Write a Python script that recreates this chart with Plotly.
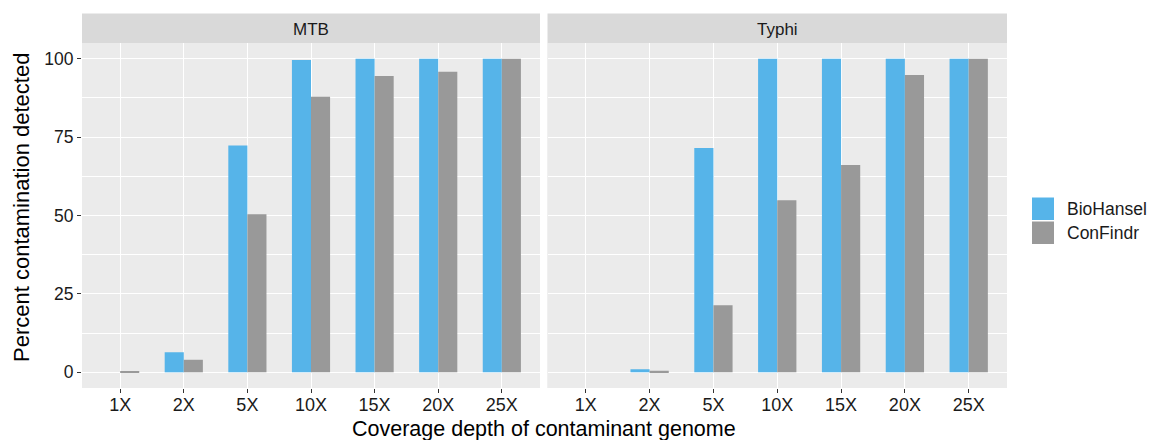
import plotly.graph_objects as go

categories = ["1X", "2X", "5X", "10X", "15X", "20X", "25X"]
mtb_biohansel = [0, 6.4, 72.3, 99.6, 100, 100, 100]
mtb_confindr = [0.3, 4.0, 50.4, 87.9, 94.5, 95.8, 100]
typhi_biohansel = [0, 1.0, 71.5, 100, 100, 100, 100]
typhi_confindr = [0, 0.5, 21.4, 54.9, 66.1, 94.8, 100]
facets = ["MTB", "Typhi"]
series_names = ["BioHansel", "ConFindr"]
y_ticks = [0, 25, 50, 75, 100]

BLUE = "#56B4E9"
GREY = "#999999"
W, H = 1151, 440
FONT = "Liberation Sans, Arial, sans-serif"

fig = go.Figure()

panels = [
    ("x", "y", mtb_biohansel, mtb_confindr),
    ("x2", "y2", typhi_biohansel, typhi_confindr),
]
for xa, ya, bh, cf in panels:
    fig.add_trace(go.Bar(x=categories, y=bh, name=series_names[0], marker_color=BLUE,
                         marker_line_width=0, xaxis=xa, yaxis=ya, showlegend=False))
    fig.add_trace(go.Bar(x=categories, y=cf, name=series_names[1], marker_color=GREY,
                         marker_line_width=0, xaxis=xa, yaxis=ya, showlegend=False))

x1 = [82 / W, 540 / W]
x2 = [547.5 / W, 1007 / W]
ydom = [1 - 388 / H, 1 - 43 / H]

common_x = dict(
    type="category", categoryorder="array", categoryarray=categories,
    range=[-0.6, 6.6], showgrid=True, gridcolor="white", gridwidth=1.1,
    ticks="outside", ticklen=4, tickcolor="#333333", tickwidth=1, ticklabelstandoff=-4,
    tickfont=dict(family=FONT, size=18, color="#1a1a1a"), showline=False, zeroline=False,
)
common_y = dict(
    range=[-5, 105], tickvals=y_ticks, showgrid=True, gridcolor="white", gridwidth=1.1,
    zeroline=False, showline=False,
    minor=dict(tickvals=[12.5, 37.5, 62.5, 87.5], showgrid=True, gridcolor="white", gridwidth=0.5),
)

fig.update_layout(
    width=W, height=H,
    margin=dict(l=0, r=0, t=0, b=0),
    paper_bgcolor="white", plot_bgcolor="#EBEBEB",
    barmode="group", bargap=0.4, bargroupgap=0,
    xaxis=dict(domain=x1, anchor="y", **common_x),
    xaxis2=dict(domain=x2, anchor="y2", **common_x),
    yaxis=dict(domain=ydom, anchor="x", ticks="outside", ticklen=4, tickcolor="#333333",
               tickfont=dict(family=FONT, size=17.5, color="#1a1a1a"), **common_y),
    yaxis2=dict(domain=ydom, anchor="x2", showticklabels=False, ticks="", **common_y),
    font=dict(family=FONT),
)

fig.add_shape(type="rect", xref="paper", yref="paper", x0=x2[0], x1=x2[1], y0=ydom[0], y1=ydom[1],
              fillcolor="#EBEBEB", line_width=0, layer="below")

# strips
for name, dom in zip(facets, [x1, x2]):
    fig.add_shape(type="rect", xref="paper", yref="paper", x0=dom[0], x1=dom[1],
                  y0=1 - 43 / H, y1=1 - 13.5 / H, fillcolor="#D9D9D9", line_width=0)
    fig.add_annotation(x=(dom[0] + dom[1]) / 2, y=1 - 29 / H, xref="paper", yref="paper",
                       text=name, showarrow=False, font=dict(family=FONT, size=17, color="#1a1a1a"),
                       xanchor="center", yanchor="middle")

# axis titles
fig.add_annotation(x=544 / W, y=1 - 428.5 / H, xref="paper", yref="paper",
                   text="Coverage depth of contaminant genome", showarrow=False,
                   font=dict(family=FONT, size=21.5, color="black"), xanchor="center", yanchor="middle")
fig.add_annotation(x=22 / W, y=1 - 208 / H, xref="paper", yref="paper",
                   text="Percent contamination detected", showarrow=False, textangle=-90,
                   font=dict(family=FONT, size=22, color="black"), xanchor="center", yanchor="middle")

# legend
for i, (name, col) in enumerate(zip(series_names, [BLUE, GREY])):
    top = 197.5 + i * 24
    fig.add_shape(type="rect", xref="paper", yref="paper", x0=1032 / W, x1=1054 / W,
                  y0=1 - (top + 22.5) / H, y1=1 - top / H, fillcolor=col, line_width=0)
    fig.add_annotation(x=1065 / W, y=1 - (top + 11.5) / H, xref="paper", yref="paper",
                       text=name, showarrow=False, font=dict(family=FONT, size=17.5, color="#1a1a1a"),
                       xanchor="left", yanchor="middle")

fig.write_html("out.html")
